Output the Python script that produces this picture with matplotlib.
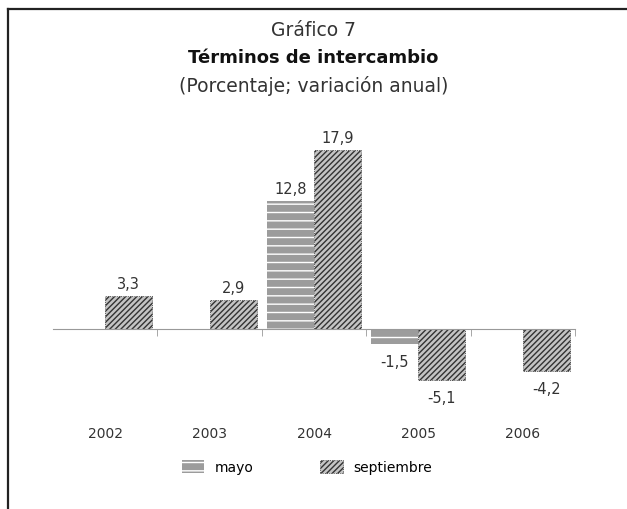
import matplotlib.pyplot as plt
import numpy as np
from matplotlib.lines import Line2D

plt.rcParams['font.family'] = ['DejaVu Sans']
plt.rcParams['hatch.linewidth'] = 1.0

# Data
years = ["2002", "2003", "2004", "2005", "2006"]
mayo = [np.nan, np.nan, 12.8, -1.5, np.nan]
septiembre = [3.3, 2.9, 17.9, -5.1, -4.2]


def fmt(v):
    return f"{v:.1f}".replace(".", ",")


fig = plt.figure(figsize=(6.27, 5.10), dpi=100)
ax = fig.add_axes([53 / 627, 1 - 400 / 510, (575 - 53) / 627, 270 / 510])

x = np.arange(len(years))
w = 0.45
b1 = ax.bar(x - w / 2, mayo, w, facecolor='#9c9c9c', edgecolor='white',
            hatch='--', linewidth=0)
b2 = ax.bar(x + w / 2, septiembre, w, facecolor='#c4c4c4', edgecolor='#333333',
            hatch='//////', linewidth=0.6, linestyle=':')

# value labels
for xi, v in zip(x - w / 2, mayo):
    if not np.isnan(v):
        ax.text(xi, v + (0.5 if v > 0 else -1.0), fmt(v), ha='center',
                va='bottom' if v > 0 else 'top', fontsize=10.5, color='#333333')
for xi, v in zip(x + w / 2, septiembre):
    ax.text(xi, v + (0.5 if v > 0 else -1.0), fmt(v), ha='center',
            va='bottom' if v > 0 else 'top', fontsize=10.5, color='#333333')

ax.set_xlim(-0.5, len(years) - 0.5)
ax.set_ylim(-7, 20)
for s in ['top', 'right', 'left']:
    ax.spines[s].set_visible(False)
ax.spines['bottom'].set_position(('data', 0))
ax.spines['bottom'].set_color('#999999')
ax.set_yticks([])
ax.set_xticks(x)
ax.set_xticklabels(years, fontsize=10, color='#333333')
ax.tick_params(axis='x', which='major', length=0, pad=70)
ax.set_xticks(np.arange(0.5, len(years)), minor=True)
ax.tick_params(axis='x', which='minor', length=5, color='#999999', direction='out')

# titles
fig.text(0.5, 1 - 30 / 510, "Gráfico 7", ha='center', va='center', fontsize=13.5, color='#333333')
fig.text(0.5, 1 - 58 / 510, "Términos de intercambio", ha='center', va='center',
         fontsize=13, fontweight='bold', color='#111111')
fig.text(0.5, 1 - 86 / 510, "(Porcentaje; variación anual)", ha='center', va='center',
         fontsize=13.5, color='#333333')

# legend
leg = fig.legend([b1[2], b2[2]], ["mayo", "septiembre"], loc='center',
                 bbox_to_anchor=(307 / 627, 1 - 468 / 510), ncol=2, frameon=False,
                 fontsize=10, columnspacing=4.8, handlelength=1.6, handleheight=1.15,
                 handletextpad=0.8)

# frame lines
fig.add_artist(Line2D([8 / 627, 8 / 627], [0, 1 - 10 / 510], color='#222222', lw=1.6))
fig.add_artist(Line2D([8 / 627, 1], [1 - 10 / 510, 1 - 10 / 510], color='#222222', lw=1.6))

fig.savefig("out.png", dpi=100)
